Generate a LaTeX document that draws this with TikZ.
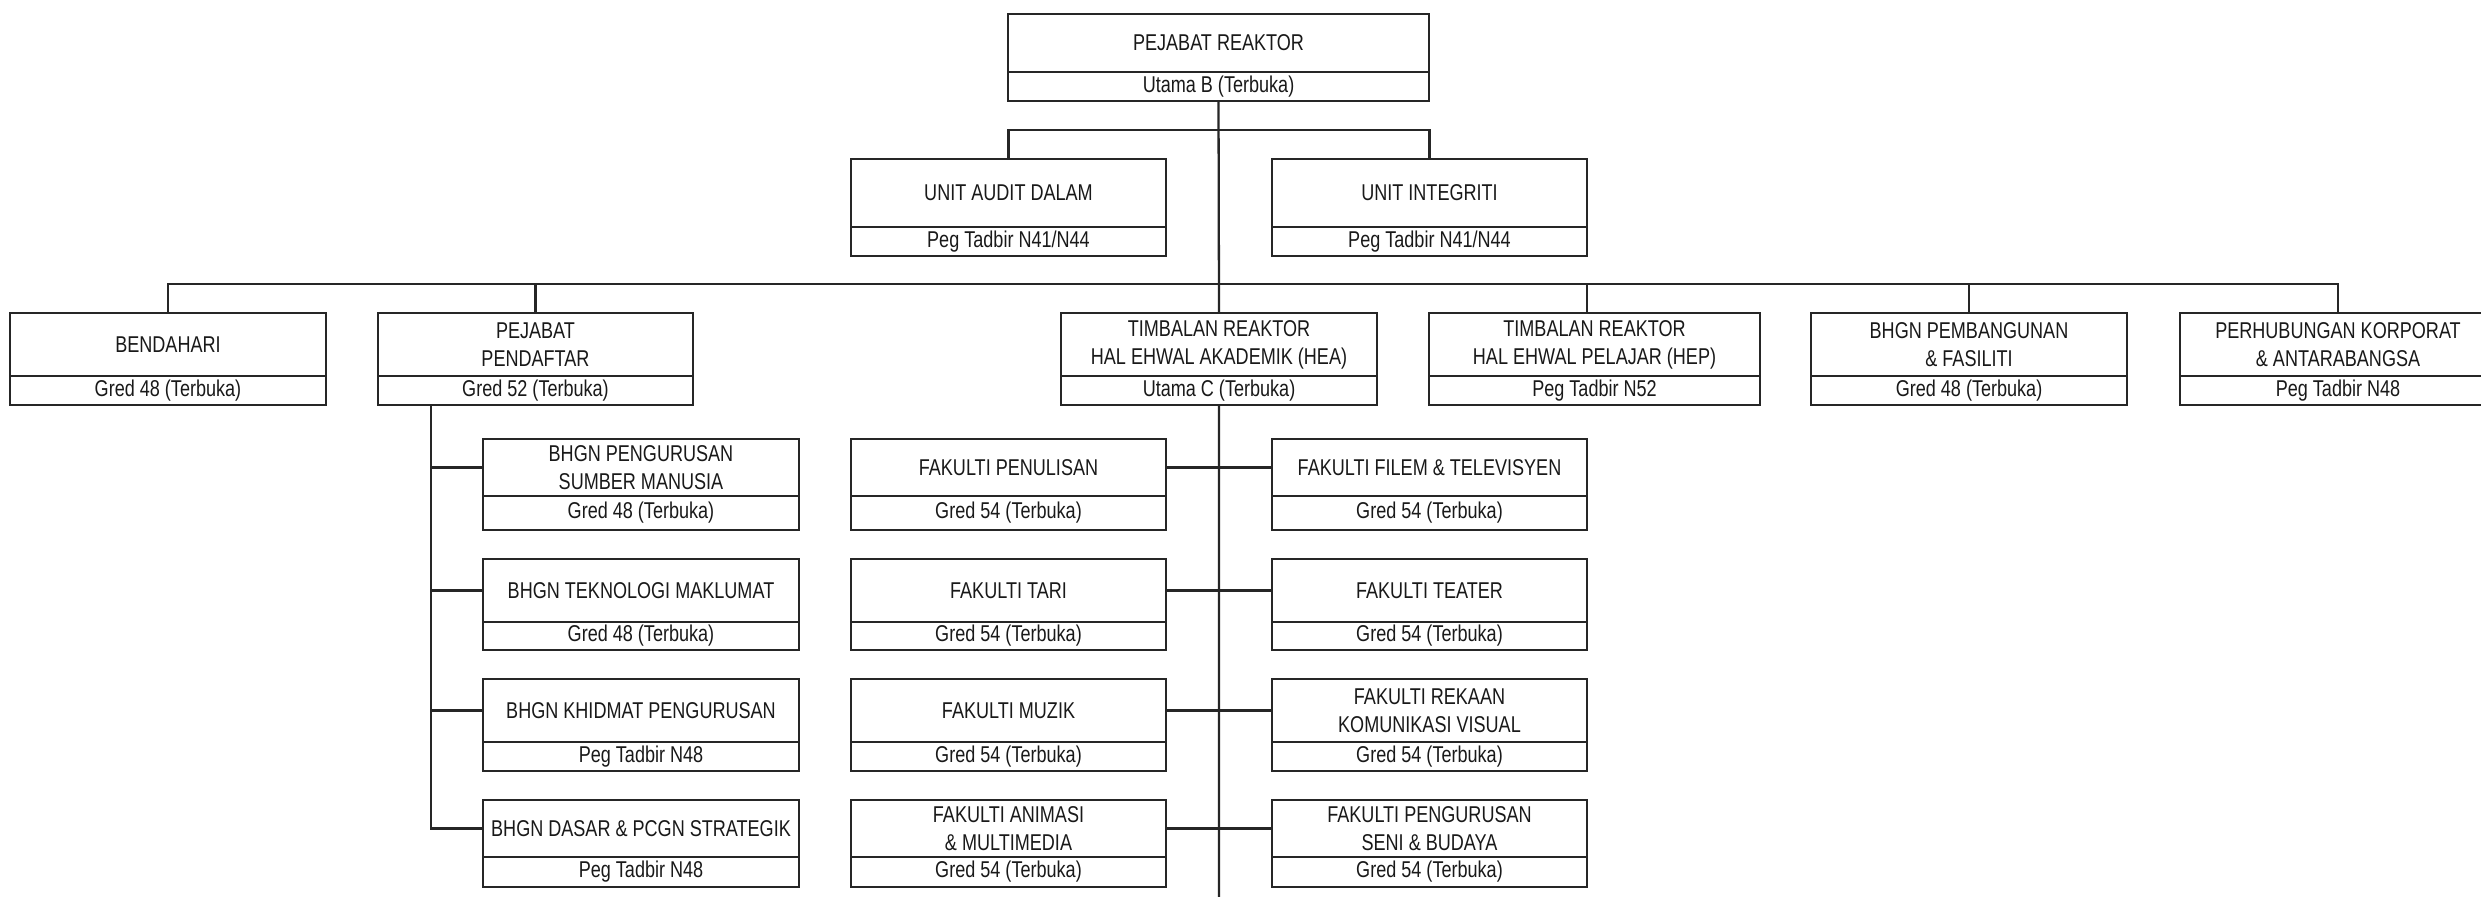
\documentclass[tikz,border=0pt]{standalone}
\usepackage{fontspec}
\setmainfont{Liberation Sans}[FakeStretch=0.79]
\begin{document}
\begin{tikzpicture}[x=0.01cm,y=-0.01cm]
\tikzset{
  boxbase/.style={draw=black!85, line width=0.7pt, inner sep=0pt, outer sep=0pt,
    align=center, text=black!90, font=\fontsize{6.5}{8}\selectfont},
  ubox/.style={boxbase, anchor=north west},
  lbox/.style={boxbase, anchor=north},
  link/.style={draw=black!85, line width=0.65pt}
}
\newcommand\orgbox[8]{%
  \pgfmathsetmacro\obW{(#3-#2)*0.01}%
  \pgfmathsetmacro\obU{(#5-#4)*0.01}%
  \pgfmathsetmacro\obL{(#6-#5)*0.01}%
  \node[ubox, minimum width=\obW cm, minimum height=\obU cm] (#1) at (#2,#4) {#7};
  \node[lbox, minimum width=\obW cm, minimum height=\obL cm] (#1g) at (#1.south) {#8};
}
\useasboundingbox (0,0) rectangle (2481,896);
\fill[white] (0,0) rectangle (2481,896);
\clip (0,0) rectangle (2481,896);

% top level
\orgbox{reaktor}{1008}{1429}{14}{72}{101}{PEJABAT REAKTOR}{Utama B (Terbuka)}
\orgbox{audit}{851}{1166}{159}{227}{256}{UNIT AUDIT DALAM}{Peg Tadbir N41/N44}
\orgbox{integriti}{1272}{1587}{159}{227}{256}{UNIT INTEGRITI}{Peg Tadbir N41/N44}

% second level
\orgbox{bendahari}{10}{326}{313}{376}{405}{BENDAHARI}{Gred 48 (Terbuka)}
\orgbox{pendaftar}{378}{693}{313}{376}{405}{PEJABAT\\PENDAFTAR}{Gred 52 (Terbuka)}
\orgbox{hea}{1061}{1377}{313}{376}{405}{TIMBALAN REAKTOR\\HAL EHWAL AKADEMIK (HEA)}{Utama C (Terbuka)}
\orgbox{hep}{1429}{1760}{313}{376}{405}{TIMBALAN REAKTOR\\HAL EHWAL PELAJAR (HEP)}{Peg Tadbir N52}
\orgbox{pembangunan}{1811}{2127}{313}{376}{405}{BHGN PEMBANGUNAN\\\& FASILITI}{Gred 48 (Terbuka)}
\orgbox{perhubungan}{2180}{2496}{313}{376}{405}{PERHUBUNGAN KORPORAT\\\& ANTARABANGSA}{Peg Tadbir N48}

% under pendaftar
\orgbox{bsdm}{483}{799}{439}{496}{530}{BHGN PENGURUSAN\\SUMBER MANUSIA}{Gred 48 (Terbuka)}
\orgbox{btm}{483}{799}{559}{622}{650}{BHGN TEKNOLOGI MAKLUMAT}{Gred 48 (Terbuka)}
\orgbox{bkp}{483}{799}{679}{742}{771}{BHGN KHIDMAT PENGURUSAN}{Peg Tadbir N48}
\orgbox{bdps}{483}{799}{800}{857}{887}{BHGN DASAR \& PCGN STRATEGIK}{Peg Tadbir N48}

% faculties
\orgbox{penulisan}{851}{1166}{439}{496}{530}{FAKULTI PENULISAN}{Gred 54 (Terbuka)}
\orgbox{filem}{1272}{1587}{439}{496}{530}{FAKULTI FILEM \& TELEVISYEN}{Gred 54 (Terbuka)}
\orgbox{tari}{851}{1166}{559}{622}{650}{FAKULTI TARI}{Gred 54 (Terbuka)}
\orgbox{teater}{1272}{1587}{559}{622}{650}{FAKULTI TEATER}{Gred 54 (Terbuka)}
\orgbox{muzik}{851}{1166}{679}{742}{771}{FAKULTI MUZIK}{Gred 54 (Terbuka)}
\orgbox{rekaan}{1272}{1587}{679}{742}{771}{FAKULTI REKAAN\\KOMUNIKASI VISUAL}{Gred 54 (Terbuka)}
\orgbox{animasi}{851}{1166}{800}{857}{887}{FAKULTI ANIMASI\\\& MULTIMEDIA}{Gred 54 (Terbuka)}
\orgbox{pengurusan}{1272}{1587}{800}{857}{887}{FAKULTI PENGURUSAN\\SENI \& BUDAYA}{Gred 54 (Terbuka)}

% connectors
\coordinate (bot) at (1219,900);
\draw[link] (reaktorg.south) -- (hea.north);
\draw[link] (heag.south) -- (bot);
\draw[link] (audit.north) -- ++(0,-29) -| (integriti.north);
\draw[link] (bendahari.north) -- ++(0,-29) -| (perhubungan.north);
\draw[link] (pendaftar.north) -- ++(0,-29);
\draw[link] ([xshift=1.58cm]hep.north west) -- ++(0,-29);
\draw[link] (pembangunan.north) -- ++(0,-29);

\coordinate (pv) at ([xshift=0.53cm]pendaftarg.south west);
\draw[link] (pv) |- (bdps.west);
\draw[link] (pv |- bsdm.west) -- (bsdm.west);
\draw[link] (pv |- btm.west) -- (btm.west);
\draw[link] (pv |- bkp.west) -- (bkp.west);

\draw[link] (penulisan.east) -- (filem.west);
\draw[link] (tari.east) -- (teater.west);
\draw[link] (muzik.east) -- (rekaan.west);
\draw[link] (animasi.east) -- (pengurusan.west);
\end{tikzpicture}
\end{document}
